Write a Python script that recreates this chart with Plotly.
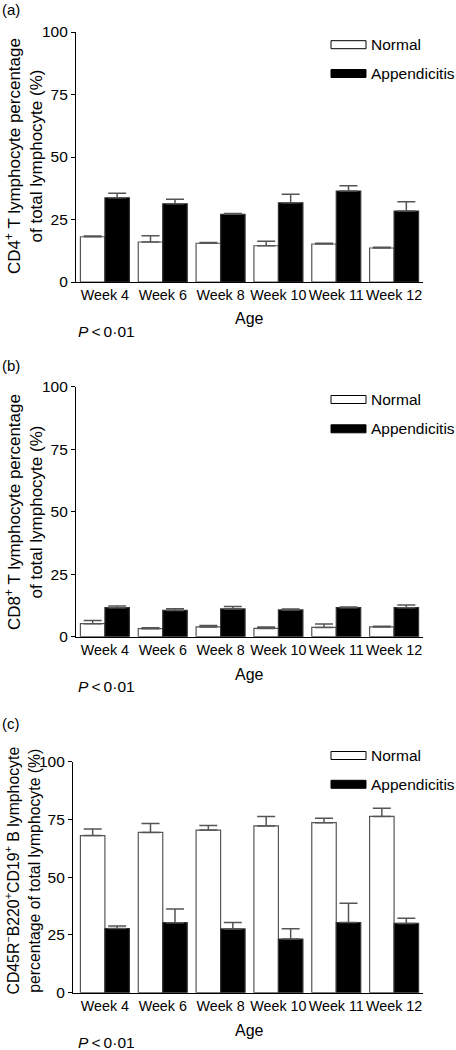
import plotly.graph_objects as go

W, H = 456, 1050

weeks = ["Week 4", "Week 6", "Week 8", "Week 10", "Week 11", "Week 12"]

# Panel (a) CD4+
cd4_normal = [18.1, 16.0, 15.5, 14.5, 15.2, 13.6]
cd4_normal_err = [0.3, 2.5, 0.3, 1.8, 0.3, 0.3]
cd4_app = [33.7, 31.3, 27.1, 31.7, 36.4, 28.4]
cd4_app_err = [1.8, 1.8, 0.3, 3.4, 2.1, 3.7]

# Panel (b) CD8+
cd8_normal = [5.2, 3.2, 3.9, 3.3, 3.7, 3.9]
cd8_normal_err = [1.3, 0.4, 0.6, 0.6, 1.4, 0.3]
cd8_app = [11.6, 10.5, 11.1, 10.7, 11.6, 11.6]
cd8_app_err = [0.7, 0.7, 1.0, 0.4, 0.3, 1.1]

# Panel (c) B cells
b_normal = [68.0, 69.4, 70.4, 72.2, 73.6, 76.3]
b_normal_err = [2.9, 3.8, 2.0, 4.1, 1.9, 3.5]
b_app = [27.8, 30.3, 27.6, 23.2, 30.4, 30.0]
b_app_err = [1.1, 5.9, 2.8, 4.5, 8.3, 2.2]

y_ticks = [0, 25, 50, 75, 100]

FONT = "Liberation Sans, Arial, Helvetica, sans-serif"

panels = [
    dict(label="(a)", n=cd4_normal, ne=cd4_normal_err, a=cd4_app, ae=cd4_app_err,
         title="CD4<sup>+</sup> T lymphocyte percentage<br>of total lymphocyte (%)",
         tsize=17, x0=76, x1=423, ytop=32, ybot=282, lab_y=10, age_y=319, p_y=331,
         ttl_x=24, ttl_y=156, leg_y=(44.7, 73.5)),
    dict(label="(b)", n=cd8_normal, ne=cd8_normal_err, a=cd8_app, ae=cd8_app_err,
         title="CD8<sup>+</sup> T lymphocyte percentage<br>of total lymphocyte (%)",
         tsize=17, x0=76, x1=423, ytop=386.7, ybot=636.7, lab_y=366, age_y=674, p_y=686,
         ttl_x=24, ttl_y=512, leg_y=(399.5, 428.8)),
    dict(label="(c)", n=b_normal, ne=b_normal_err, a=b_app, ae=b_app_err,
         title="CD45R<sup>\u2212</sup>B220<sup>+</sup>CD19<sup>+</sup> B lymphocyte<br>percentage of total lymphocyte (%)",
         tsize=15.8, x0=73, x1=423, ytop=761.7, ybot=992.7, lab_y=723, age_y=1030, p_y=1042,
         ttl_x=22.5, ttl_y=871, leg_y=(755.5, 784.3)),
]

fig = go.Figure()
shapes = []
annotations = []

def px_x(v):
    return v / W

def px_y(v):
    return 1 - v / H

cat_w = (423 - 76) / 6.0

for i, p in enumerate(panels):
    k = "" if i == 0 else str(i + 1)
    xa = "x" + k
    ya = "y" + k
    fig.add_trace(go.Bar(
        x=weeks, y=p["n"], name="Normal", xaxis=xa, yaxis=ya,
        marker=dict(color="white", line=dict(color="#555555", width=1.2)),
        error_y=dict(type="data", array=p["ne"], arrayminus=[0] * 6, symmetric=False,
                     color="#555555", thickness=1.5, width=9),
        showlegend=False,
    ))
    fig.add_trace(go.Bar(
        x=weeks, y=p["a"], name="Appendicitis", xaxis=xa, yaxis=ya,
        marker=dict(color="black", line=dict(color="#333333", width=1.2)),
        error_y=dict(type="data", array=p["ae"], arrayminus=[0] * 6, symmetric=False,
                     color="#555555", thickness=1.5, width=9),
        showlegend=False,
    ))
    left_ext = (76 - p["x0"]) / cat_w
    fig.update_layout({
        "xaxis" + k: dict(domain=[px_x(p["x0"]), px_x(p["x1"])], anchor=ya,
                           range=[-0.5 - left_ext, 5.5], showline=True, linecolor="black",
                           linewidth=1.2, ticks="", showgrid=False, zeroline=False,
                           tickangle=0, automargin=False,
                           tickfont=dict(family=FONT, size=14.3, color="black"),
                           fixedrange=True),
        "yaxis" + k: dict(domain=[px_y(p["ybot"]), px_y(p["ytop"])], anchor=xa,
                           range=[0, 100], tickvals=y_ticks, showline=True,
                           linecolor="black", linewidth=1.2, ticks="outside", ticklen=4,
                           tickcolor="black", showgrid=False, zeroline=False,
                           automargin=False,
                           tickfont=dict(family=FONT, size=15.5, color="black"),
                           fixedrange=True),
    })
    # panel label
    annotations.append(dict(text=p["label"], xref="paper", yref="paper",
                            x=0, y=px_y(p["lab_y"]), xanchor="left", yanchor="middle",
                            showarrow=False, font=dict(family=FONT, size=15, color="black")))
    # y title
    annotations.append(dict(text=p["title"], xref="paper", yref="paper",
                            x=px_x(p["ttl_x"]), y=px_y(p["ttl_y"]), xanchor="center",
                            yanchor="middle", textangle=-90, showarrow=False,
                            font=dict(family=FONT, size=p["tsize"], color="black")))
    # x title
    annotations.append(dict(text="Age", xref="paper", yref="paper",
                            x=px_x(249), y=px_y(p["age_y"]), xanchor="center",
                            yanchor="middle", showarrow=False,
                            font=dict(family=FONT, size=16, color="black")))
    # P value
    annotations.append(dict(text="<i>P</i>\u2009<\u20090\u00b701", xref="paper", yref="paper",
                            x=px_x(76), y=px_y(p["p_y"]), xanchor="left",
                            yanchor="middle", showarrow=False,
                            font=dict(family=FONT, size=15.5, color="black")))
    # legend
    for j, (nm, fill) in enumerate([("Normal", "white"), ("Appendicitis", "black")]):
        yc = p["leg_y"][j]
        shapes.append(dict(type="rect", xref="paper", yref="paper",
                           x0=px_x(331), x1=px_x(366), y0=px_y(yc - 4), y1=px_y(yc + 4),
                           fillcolor=fill, line=dict(color="black", width=1)))
        annotations.append(dict(text=nm, xref="paper", yref="paper",
                                x=px_x(369), y=px_y(yc), xanchor="left", yanchor="middle",
                                showarrow=False,
                                font=dict(family=FONT, size=15.5, color="black")))

fig.update_layout(
    width=W, height=H,
    margin=dict(l=0, r=0, t=0, b=0),
    paper_bgcolor="white", plot_bgcolor="white",
    barmode="group", bargap=0.153, bargroupgap=0,
    shapes=shapes, annotations=annotations,
    showlegend=False,
)

fig.write_html("out.html", config={"displayModeBar": False},
               post_script="document.body.style.margin='0px';document.body.style.overflow='hidden';")
